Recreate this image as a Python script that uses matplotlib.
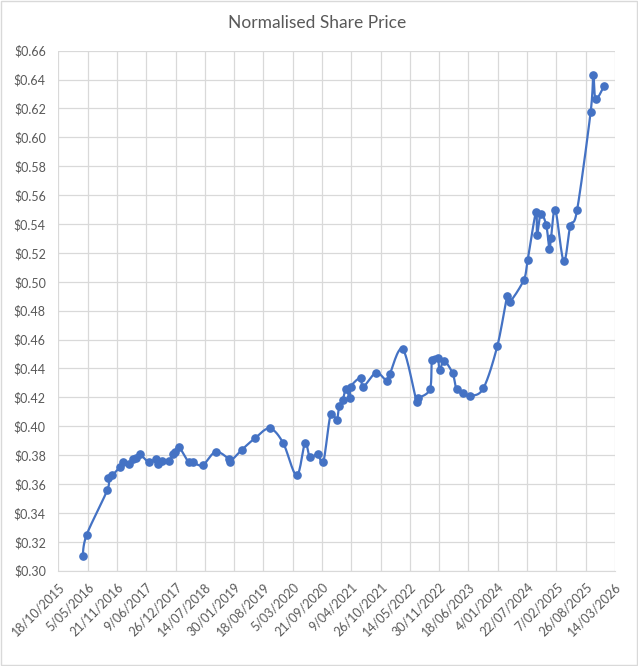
import numpy as np
import pandas as pd
import matplotlib
matplotlib.use("Agg")
import matplotlib.pyplot as plt
import matplotlib.dates as mdates
from matplotlib.patches import Rectangle

# data
dates = [
    "2016-04-01", "2016-04-29", "2016-09-17", "2016-09-23", "2016-10-21", "2016-12-12",
    "2016-12-31", "2017-02-14", "2017-03-09", "2017-03-31", "2017-04-28", "2017-06-26",
    "2017-08-13", "2017-08-27", "2017-09-23", "2017-11-12", "2017-12-11", "2017-12-23",
    "2018-01-17", "2018-03-26", "2018-04-23", "2018-06-30", "2018-09-26", "2018-12-28",
    "2019-01-02", "2019-03-25", "2019-06-24", "2019-09-30", "2019-12-30", "2020-04-01",
    "2020-05-28", "2020-07-01", "2020-08-23", "2020-09-30", "2020-11-19", "2020-12-30",
    "2021-01-17", "2021-02-09", "2021-03-04", "2021-03-31", "2021-04-05", "2021-06-12",
    "2021-06-28", "2021-09-25", "2021-12-07", "2021-12-27", "2022-03-26", "2022-06-29",
    "2022-07-10", "2022-09-28", "2022-10-12", "2022-11-20", "2022-12-03", "2023-01-02",
    "2023-03-02", "2023-03-29", "2023-05-13", "2023-06-28", "2023-09-27", "2024-01-01",
    "2024-03-09", "2024-03-27", "2024-06-29", "2024-07-26", "2024-09-21", "2024-09-28",
    "2024-10-23", "2024-11-30", "2024-12-21", "2025-01-01", "2025-01-31", "2025-03-29",
    "2025-05-13", "2025-06-28", "2025-09-29", "2025-10-17", "2025-11-02", "2025-12-29",
]
prices = [
    0.310, 0.325, 0.356, 0.364, 0.366, 0.372,
    0.375, 0.374, 0.377, 0.378, 0.3805, 0.375,
    0.3773, 0.3738, 0.3759, 0.3759, 0.3808, 0.3819,
    0.3858, 0.375, 0.375, 0.3731, 0.3823, 0.3771,
    0.3754, 0.3838, 0.3919, 0.3985, 0.3886, 0.366,
    0.3882, 0.3785, 0.3808, 0.3752, 0.4082, 0.4043,
    0.4142, 0.4181, 0.4255, 0.4195, 0.4273, 0.4336,
    0.4271, 0.437, 0.4315, 0.4359, 0.4534, 0.4169,
    0.4193, 0.4257, 0.4458, 0.4472, 0.4389, 0.4453,
    0.4366, 0.4255, 0.4228, 0.4211, 0.4262, 0.4555,
    0.4903, 0.4862, 0.5012, 0.515, 0.5484, 0.5323,
    0.5468, 0.5392, 0.5226, 0.530, 0.5496, 0.5143,
    0.5387, 0.5494, 0.6176, 0.643, 0.6266, 0.6354,
]

x_start = "2015-10-18"
x_end = "2026-03-14"
x_step_days = 200
y_min, y_max, y_step = 0.30, 0.66, 0.02

blue = "#4472C4"
grey_text = "#595959"
grid_col = "#D9D9D9"

plt.rcParams["font.family"] = ["Lato", "DejaVu Sans"]


def smooth_curve(xs, ys, sx, sy, n=16):
    # excel-like smoothed line (catmull-rom as bezier), done in scaled space
    px = np.asarray(xs) / sx
    py = np.asarray(ys) / sy
    out_x, out_y = [px[0]], [py[0]]
    t = np.linspace(0, 1, n)[1:]
    for i in range(len(px) - 1):
        p0 = i - 1 if i > 0 else i
        p3 = i + 2 if i + 2 < len(px) else i + 1
        c1x = px[i] + (px[i + 1] - px[p0]) / 6
        c1y = py[i] + (py[i + 1] - py[p0]) / 6
        c2x = px[i + 1] - (px[p3] - px[i]) / 6
        c2y = py[i + 1] - (py[p3] - py[i]) / 6
        bx = ((1 - t) ** 3 * px[i] + 3 * (1 - t) ** 2 * t * c1x
              + 3 * (1 - t) * t ** 2 * c2x + t ** 3 * px[i + 1])
        by = ((1 - t) ** 3 * py[i] + 3 * (1 - t) ** 2 * t * c1y
              + 3 * (1 - t) * t ** 2 * c2y + t ** 3 * py[i + 1])
        out_x.extend(bx)
        out_y.extend(by)
    return np.array(out_x) * sx, np.array(out_y) * sy


fig = plt.figure(figsize=(6.38, 6.66), dpi=100)
ax = fig.add_axes([0.0914, 0.1431, 0.8725, 0.7808])

d = pd.to_datetime(dates)
xn = mdates.date2num(d)
x0 = mdates.date2num(pd.Timestamp(x_start))
x1 = mdates.date2num(pd.Timestamp(x_end))

ax.set_xlim(x0, x1)
ax.set_ylim(y_min, y_max)

# scale so the curve is smoothed in screen proportions
bbox = ax.get_position()
w_px = bbox.width * fig.get_figwidth()
h_px = bbox.height * fig.get_figheight()
cx, cy = smooth_curve(xn, prices, (x1 - x0) / w_px, (y_max - y_min) / h_px)
ax.plot(cx, cy, color=blue, lw=1.6, zorder=3, solid_capstyle="round")
ax.plot(xn, prices, "o", color=blue, ms=5.2, zorder=4)

ticks = pd.date_range(x_start, x_end, freq=f"{x_step_days}D")
ax.set_xticks(mdates.date2num(ticks))
ax.set_xticklabels([f"{t.day}/{t.month:02d}/{t.year}" for t in ticks],
                   rotation=45, ha="right", rotation_mode="anchor")
yt = np.round(np.arange(y_min, y_max + 1e-9, y_step), 2)
ax.set_yticks(yt)
ax.set_yticklabels([f"${v:.2f}" for v in yt])

ax.grid(True, color=grid_col, lw=0.9)
ax.set_axisbelow(True)
for s in ["top", "right", "left"]:
    ax.spines[s].set_visible(False)
ax.spines["bottom"].set_color(grid_col)
ax.tick_params(length=0, labelsize=9, colors=grey_text)
ax.tick_params(axis="y", pad=9)
ax.tick_params(axis="x", pad=7)

fig.text(0.497, 1 - 23 / 666, "Normalised Share Price", ha="center", va="center",
         fontsize=12.5, color=grey_text)

fig.patches.append(Rectangle((0.001, 0.001), 0.997, 0.997, transform=fig.transFigure,
                             fill=False, edgecolor=grid_col, lw=1))

fig.savefig("out.png", dpi=100)
